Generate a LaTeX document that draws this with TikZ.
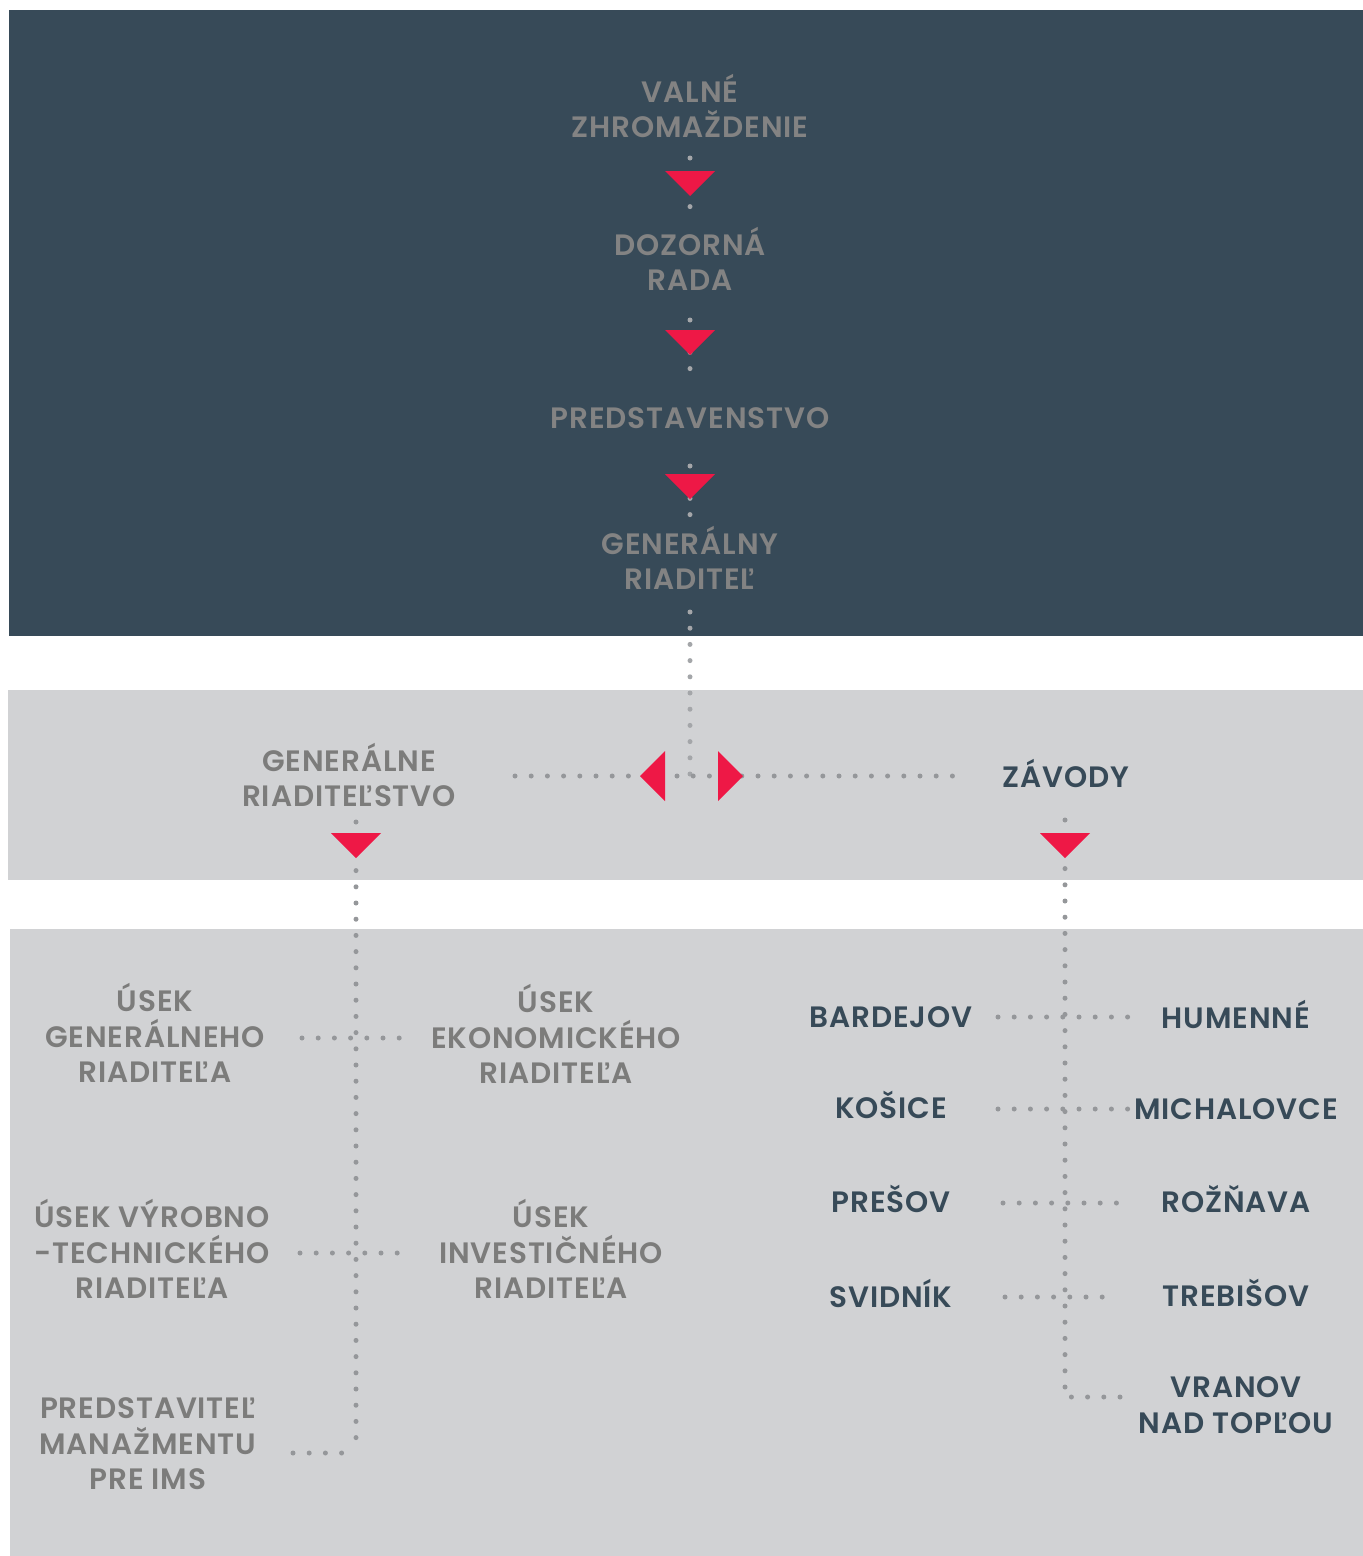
\documentclass[tikz,border=0pt]{standalone}
\usepackage{fontspec}
\setmainfont{Poppins}[BoldFont={* SemiBold}, LetterSpace=3]
\definecolor{darkbg}{HTML}{374A58}
\definecolor{lightbg}{HTML}{D1D2D4}
\definecolor{graytext}{HTML}{7C7C7B}
\definecolor{topgray}{HTML}{838383}
\definecolor{darktext}{HTML}{374A58}
\definecolor{redc}{HTML}{EE1846}
\definecolor{dotc}{HTML}{95979A}
\definecolor{dotlight}{HTML}{A4A6A9}
\tikzset{
  lbl/.style={align=center, inner sep=0pt, font=\bfseries\fontsize{29.5}{35.5}\selectfont},
  toplbl/.style={lbl, text=topgray},
  graylbl/.style={lbl, text=graytext},
  darklbl/.style={lbl, text=darktext},
  dots/.style={draw=dotc, line width=5pt, line cap=round, dash pattern=on 0pt off 16.2pt},
  topdots/.style={dots, draw=dotlight},
  tri/.style={fill=redc}
}
\begin{document}
\begin{tikzpicture}[x=1pt,y=-1pt]
\useasboundingbox (0,0) rectangle (1363,1556);
% backgrounds
\fill[white] (0,0) rectangle (1363,1556);
\fill[darkbg] (9,10) rectangle (1363,636);
\fill[lightbg] (8,690) rectangle (1363,880);
\fill[lightbg] (10,929) rectangle (1363,1556);

% top chain nodes
\node[toplbl] (vz) at (690,106) {VALNÉ\\ZHROMAŽDENIE};
\node[toplbl] (dr) at (690,259) {DOZORNÁ\\RADA};
\node[toplbl] (ps) at (690,418) {PREDSTAVENSTVO};
\node[toplbl] (gr) at (690,558) {GENERÁLNY\\RIADITEĽ};

% middle band
\node[graylbl] (grs) at (349,775) {GENERÁLNE\\RIADITEĽSTVO};
\node[darklbl] (zav) at (1066,773) {ZÁVODY};

% lower band, left
\node[graylbl] (ugr) at (155,1033) {ÚSEK\\GENERÁLNEHO\\RIADITEĽA};
\node[graylbl] (uek) at (556,1034) {ÚSEK\\EKONOMICKÉHO\\RIADITEĽA};
\node[graylbl] (uvt) at (152,1249) {ÚSEK VÝROBNO\\-TECHNICKÉHO\\RIADITEĽA};
\node[graylbl] (uin) at (551,1249) {ÚSEK\\INVESTIČNÉHO\\RIADITEĽA};
\node[graylbl] (pmi) at (148,1444) {PREDSTAVITEĽ\\MANAŽMENTU\\PRE IMS};

% lower band, right
\node[darklbl] (bar) at (891,1017) {BARDEJOV};
\node[darklbl] (hum) at (1236,1014) {HUMENNÉ};
\node[darklbl] (kos) at (891,1105) {KOŠICE};
\node[darklbl] (mic) at (1236,1109) {MICHALOVCE};
\node[darklbl] (pre) at (891,1199) {PREŠOV};
\node[darklbl] (roz) at (1236,1199) {ROŽŇAVA};
\node[darklbl] (svi) at (891,1293) {SVIDNÍK};
\node[darklbl] (tre) at (1236,1293) {TREBIŠOV};
\node[darklbl] (vra) at (1236,1405) {VRANOV\\NAD TOPĽOU};

% connector coordinates
\coordinate (c1a) at (690,158);  \coordinate (c1b) at (690,207);
\coordinate (c2a) at (690,320);  \coordinate (c2b) at (690,369);
\coordinate (c3a) at (690,466);  \coordinate (c3b) at (690,515);
\coordinate (c4a) at (690,612);  \coordinate (jn) at (690,776);
\coordinate (hl) at (515,776);   \coordinate (hr) at (955,776);
\coordinate (g1) at (356,822);   \coordinate (g2) at (356,1453);
\coordinate (g3) at (293,1453);
\coordinate (z1) at (1065,820);  \coordinate (z2) at (1065,1397);
\coordinate (z3) at (1120,1397);
\coordinate (e1a) at (302,1038); \coordinate (e1b) at (405,1038);
\coordinate (e2a) at (300,1253); \coordinate (e2b) at (405,1253);
\coordinate (b1a) at (998,1017); \coordinate (b1b) at (1128,1017);
\coordinate (b2a) at (998,1109); \coordinate (b2b) at (1130,1109);
\coordinate (b3a) at (1003,1203); \coordinate (b3b) at (1120,1203);
\coordinate (b4a) at (1005,1297); \coordinate (b4b) at (1118,1297);

% dotted connectors
\draw[topdots] (c1a) -- (c1b);
\draw[topdots] (c2a) -- (c2b);
\draw[topdots] (c3a) -- (c3b);
\draw[topdots] (c4a) -- (jn);
\draw[dots] (hl) -- (hr);
\draw[dots] (g1) -- (g2);
\draw[dots] (g3) -- (g2);
\draw[dots] (z1) -- (z2);
\draw[dots] (z3) -- (z2);
\draw[dots] (e1a) -- (e1b);
\draw[dots] (e2a) -- (e2b);
\draw[dots] (b1a) -- (b1b);
\draw[dots] (b2a) -- (b2b);
\draw[dots] (b3a) -- (b3b);
\draw[dots] (b4a) -- (b4b);

% red triangles
\fill[tri] (665,171) -- (715,171) -- (690,196) -- cycle;
\fill[tri] (665,330) -- (715,330) -- (690,355) -- cycle;
\fill[tri] (665,474) -- (715,474) -- (690,499) -- cycle;
\fill[tri] (665,751) -- (665,801) -- (640,776) -- cycle;
\fill[tri] (718,751) -- (718,801) -- (743,776) -- cycle;
\fill[tri] (331,833) -- (381,833) -- (356,858) -- cycle;
\fill[tri] (1040,833) -- (1090,833) -- (1065,858) -- cycle;
\end{tikzpicture}
\end{document}
